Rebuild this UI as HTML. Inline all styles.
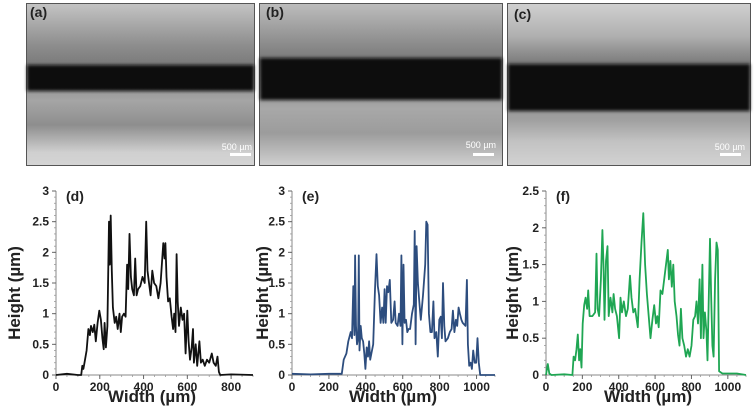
<!DOCTYPE html>
<html><head><meta charset="utf-8"><style>
html,body{margin:0;padding:0;background:#fff;}
svg{display:block;font-family:"Liberation Sans",Arial,sans-serif;}
</style></head><body>
<svg id="fig" width="754" height="419" viewBox="0 0 754 419" xmlns="http://www.w3.org/2000/svg">
<defs>
<linearGradient id="ga" x1="0" y1="0" x2="0" y2="1">
<stop offset="0" stop-color="#c4c4c4"/><stop offset="0.25" stop-color="#8f8f8f"/><stop offset="0.38" stop-color="#7a7a7a"/><stop offset="0.6" stop-color="#a5a5a5"/><stop offset="0.75" stop-color="#8e8e8e"/><stop offset="0.92" stop-color="#d0d0d0"/><stop offset="1" stop-color="#d4d4d4"/></linearGradient>
<linearGradient id="gb" x1="0" y1="0" x2="0" y2="1">
<stop offset="0" stop-color="#bdbdbd"/><stop offset="0.25" stop-color="#8c8c8c"/><stop offset="0.36" stop-color="#777"/><stop offset="0.65" stop-color="#a8a8a8"/><stop offset="0.8" stop-color="#9c9c9c"/><stop offset="1" stop-color="#d0d0d0"/></linearGradient>
<linearGradient id="gc" x1="0" y1="0" x2="0" y2="1">
<stop offset="0" stop-color="#d0d0d0"/><stop offset="0.2" stop-color="#b0b0b0"/><stop offset="0.36" stop-color="#7d7d7d"/><stop offset="0.72" stop-color="#a0a0a0"/><stop offset="0.85" stop-color="#c2c2c2"/><stop offset="1" stop-color="#d2d2d2"/></linearGradient>
<filter id="bl"><feGaussianBlur stdDeviation="1.5"/></filter>
</defs>
<g>
<rect x="26.5" y="3.5" width="228" height="162" fill="url(#ga)" stroke="#555"/>
<rect x="27" y="65" width="227" height="26" fill="#0a0a0a" filter="url(#bl)"/>
<text x="30" y="17" font-size="14" font-weight="bold" fill="#222">(a)</text>
<text x="252" y="150" font-size="9" fill="#fff" text-anchor="end">500 µm</text>
<rect x="230" y="153" width="21" height="3" fill="#fff"/>
</g>
<g>
<rect x="259.5" y="3.5" width="243" height="162" fill="url(#gb)" stroke="#555"/>
<rect x="260" y="58" width="242" height="42" fill="#0a0a0a" filter="url(#bl)"/>
<text x="266" y="17" font-size="14" font-weight="bold" fill="#222">(b)</text>
<text x="496" y="148" font-size="9" fill="#fff" text-anchor="end">500 µm</text>
<rect x="473" y="153" width="21" height="3" fill="#fff"/>
</g>
<g>
<rect x="507.5" y="3.5" width="243" height="162" fill="url(#gc)" stroke="#555"/>
<rect x="508" y="64" width="242" height="47" fill="#0a0a0a" filter="url(#bl)"/>
<text x="514" y="19" font-size="14" font-weight="bold" fill="#222">(c)</text>
<text x="745" y="150" font-size="9" fill="#fff" text-anchor="end">500 µm</text>
<rect x="720" y="153" width="21" height="3" fill="#fff"/>
</g>
<g id="charts"></g>
</svg>
<script>
const dataD = [[0,0],[50,0.02],[100,0],[115,0],[120,0.15],[125,0.1],[130,0.2],[140,0.4],[148,0.75],[155,0.65],[160,0.8],[168,0.7],[175,0.82],[182,0.55],[190,0.85],[198,1.05],[205,0.9],[212,0.6],[218,0.42],[222,0.85],[228,0.45],[235,0.8],[242,2.5],[246,1.8],[250,2.6],[255,1.7],[260,1.1],[268,0.85],[275,0.95],[282,0.75],[290,1.0],[296,0.7],[302,0.95],[310,1.0],[318,0.95],[325,1.8],[330,1.4],[336,2.3],[342,1.6],[348,1.4],[356,1.3],[362,1.9],[368,1.3],[375,1.4],[385,1.45],[395,1.6],[405,1.5],[412,2.5],[418,1.7],[425,1.5],[432,1.3],[440,1.7],[448,1.5],[458,1.45],[468,1.25],[478,1.5],[490,2.15],[496,1.9],[500,2.15],[505,1.6],[512,1.2],[520,1.25],[528,0.95],[535,0.75],[540,1.0],[546,0.7],[551,1.97],[556,1.2],[562,0.8],[570,1.1],[578,0.9],[585,1.0],[592,0.35],[600,1.05],[606,0.55],[612,0.25],[620,0.45],[626,0.75],[630,0.2],[638,0.5],[645,0.15],[655,0.55],[662,0.2],[670,0.25],[680,0.15],[690,0.25],[700,0.2],[712,0.35],[720,0.2],[730,0.15],[738,0.3],[744,0.05],[750,0],[800,0.01],[900,0]];
const dataE = [[0,0.02],[100,0.01],[200,0.02],[270,0.02],[280,0.25],[295,0.35],[305,0.55],[318,0.7],[325,0.6],[332,1.45],[338,0.65],[342,1.95],[347,0.8],[352,0.5],[358,0.6],[362,1.95],[366,0.4],[372,0.8],[378,0.6],[385,0.55],[392,0.35],[398,0.1],[405,0.45],[412,0.3],[418,0.55],[424,0.25],[430,0.35],[440,0.5],[450,1.4],[458,1.97],[465,1.45],[472,1.3],[480,0.85],[488,1.1],[495,0.85],[502,1.4],[508,0.85],[515,1.45],[522,1.35],[530,1.55],[538,0.85],[548,0.9],[556,1.2],[562,0.85],[572,0.8],[580,1.0],[588,0.8],[593,1.95],[598,0.5],[604,1.8],[610,0.85],[618,0.9],[625,0.7],[632,0.75],[640,0.75],[650,1.0],[660,1.15],[665,2.35],[670,0.5],[675,2.1],[682,1.5],[690,1.2],[698,0.9],[710,1.3],[722,1.8],[728,2.5],[735,2.45],[742,1.0],[750,0.7],[758,0.7],[766,1.2],[772,0.6],[782,0.7],[790,0.3],[798,0.9],[806,0.95],[812,0.6],[818,1.5],[825,0.8],[832,0.55],[845,0.6],[855,0.7],[865,0.75],[872,1.05],[880,0.7],[888,0.9],[895,0.8],[903,1.1],[910,1.0],[918,0.9],[925,0.85],[940,0.8],[948,1.55],[953,0.5],[960,0.15],[968,0.2],[975,0.1],[982,0.4],[990,0.2],[998,0.2],[1005,0.6],[1012,0.2],[1020,0],[1100,0]];
const dataF = [[0,0],[10,0.15],[18,0.02],[30,0],[100,0.01],[145,0],[152,0.25],[160,0.2],[168,0.35],[175,0.55],[182,0.2],[188,0.35],[195,0.1],[202,0.7],[210,0.95],[218,1.05],[226,0.9],[232,1.15],[240,0.8],[255,0.8],[270,0.85],[278,1.65],[284,0.9],[292,0.8],[302,1.3],[310,1.97],[316,1.5],[322,0.75],[330,1.55],[338,1.75],[345,0.8],[355,1.05],[365,0.85],[372,1.1],[380,0.9],[390,0.8],[402,0.5],[410,1.05],[418,0.85],[428,1.0],[440,0.8],[450,0.9],[462,1.35],[470,1.05],[480,0.85],[490,0.9],[505,0.65],[515,1.3],[525,1.8],[535,2.2],[545,1.5],[555,1.1],[565,0.8],[575,0.5],[585,0.75],[595,0.95],[605,0.7],[612,0.8],[620,0.65],[630,1.15],[640,1.1],[650,1.3],[660,1.5],[670,1.7],[676,1.3],[684,1.55],[692,1.2],[700,1.5],[708,1.0],[718,0.8],[726,0.55],[734,0.4],[742,0.9],[750,0.5],[760,0.4],[770,0.25],[780,0.35],[790,0.25],[800,0.4],[810,0.75],[820,0.8],[828,1.0],[836,0.7],[845,1.3],[852,0.5],[860,1.5],[866,0.5],[874,0.85],[882,0.6],[888,0.2],[895,1.0],[902,1.85],[908,1.1],[915,0.4],[922,0.25],[930,1.3],[938,1.8],[945,1.7],[952,0.05],[970,0.02],[1050,0.02],[1100,0]];
const xTicksD = [0,200,400,600,800];
const xTicksE = [0,200,400,600,800,1000];
const xTicksF = [0,200,400,600,800,1000];
const yTicksD = [0,0.5,1,1.5,2,2.5,3];
const yTicksE = [0,0.5,1,1.5,2,2.5,3];
const yTicksF = [0,0.5,1,1.5,2,2.5];

const NS = "http://www.w3.org/2000/svg";
const root = document.getElementById('charts');
function mk(tag, attrs, parent){const e=document.createElementNS(NS,tag);for(const k in attrs)e.setAttribute(k,attrs[k]);parent.appendChild(e);return e;}
function chart(key, label, data, xTicks, yTicks, xmax, ymax, x0, x1, color, ylabX, titleCx){
  const y0=375, y1=191;
  const g=mk('g',{},root);
  
  
  const sx=v=>x0+(v/xmax)*(x1-x0);
  const sy=v=>y0-(v/ymax)*(y0-y1);
  const ax=mk('path',{d:`M${x0},${y1} V${y0} H${x1}`,stroke:'#888',fill:'none','stroke-width':1},g);
  
  
  for(let v=0; v<=ymax+1e-9; v+=0.1){
    mk('line',{x1:x0-2,x2:x0,y1:sy(v),y2:sy(v),stroke:'#999','stroke-width':0.8},g);
  }
  for(let v=0; v<=xmax+1e-9; v+=50){
    mk('line',{x1:sx(v),x2:sx(v),y1:y0,y2:y0+2,stroke:'#999','stroke-width':0.8},g);
  }
  yTicks.forEach(v=>{
    mk('line',{x1:x0-4,x2:x0,y1:sy(v),y2:sy(v),stroke:'#666'},g);
    const t=mk('text',{x:x0-7,y:sy(v)+4,'font-size':12,'font-weight':'bold','text-anchor':'end',fill:'#222'},g);
    t.textContent=String(v);
    
    
  });
  xTicks.forEach(v=>{
    mk('line',{x1:sx(v),x2:sx(v),y1:y0,y2:y0+4,stroke:'#666'},g);
    const t=mk('text',{x:sx(v),y:y0+16,'font-size':12,'font-weight':'bold','text-anchor':'middle',fill:'#222'},g);
    t.textContent=String(v);
    
    
  });
  const p=mk('polyline',{points:data.map(d=>sx(d[0]).toFixed(1)+','+sy(d[1]).toFixed(1)).join(' '),fill:'none',stroke:color,'stroke-width':1.8,'stroke-linejoin':'round'},g);
  
  
  const pl=mk('text',{x:x0+10,y:y1+10,'font-size':14,'font-weight':'bold',fill:'#222'},g);
  pl.textContent=label;
  
  
  const xt=mk('text',{x:titleCx,y:402,'font-size':17,'font-weight':'bold','text-anchor':'middle',fill:'#222'},g);
  xt.textContent='Width (µm)';
  
  
  const yt=mk('text',{x:0,y:0,'font-size':17,'font-weight':'bold','text-anchor':'middle',fill:'#222',transform:`translate(${ylabX},${(y0+y1)/2+10}) rotate(-90)`},g);
  yt.textContent='Height (µm)';
  
  
}
chart('d','(d)',dataD,xTicksD,yTicksD,900,3,56,253,'#111',20,152);
chart('e','(e)',dataE,xTicksE,yTicksE,1100,3,292,495,'#2d4d7e',268,393);
chart('f','(f)',dataF,xTicksF,yTicksF,1100,2.5,546,746,'#1fa653',518,648);
</script>
</body></html>
